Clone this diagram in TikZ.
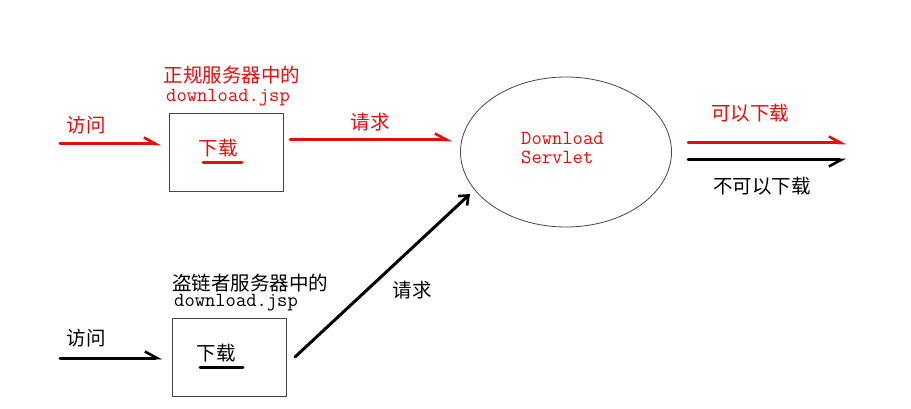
\documentclass[tikz,border=0pt]{standalone}
\usepackage{fontspec}
\newfontfamily\cjk{Noto Sans CJK SC}
\usetikzlibrary{arrows.meta,shapes.geometric}
\definecolor{myred}{RGB}{232,12,12}
\definecolor{boxgray}{RGB}{70,70,70}
\tikzset{
  cjklabel/.style={font=\cjk\fontsize{19.5}{22}\selectfont, inner sep=0pt},
  monolabel/.style={font=\ttfamily\fontsize{20}{20}\selectfont, inner sep=0pt},
  pagebox/.style={draw=boxgray, line width=0.9pt, minimum width=114pt, minimum height=78pt, inner sep=0pt},
  thickline/.style={line width=3pt, line cap=round},
  barbup/.style={-{Straight Barb[harpoon, length=12pt, width=13pt, line width=2.6pt]}},
  barbdown/.style={-{Straight Barb[harpoon, swap, length=12pt, width=13pt, line width=2.6pt]}},
  barbboth/.style={-{Straight Barb[length=8pt, width=13pt, line width=2.6pt]}},
}
\begin{document}
\begin{tikzpicture}[x=1pt,y=-1pt]
\useasboundingbox[fill=white] (0,0) rectangle (911,409);

% ---------- top (legitimate) ----------
\node[cjklabel, text=myred] (t1) at (232,75) {正规服务器中的};
\node[monolabel, text=myred] (t2) at (228,98) {download.jsp};
\node[pagebox] (box1) at (226,152) {};
\node[cjklabel, text=myred] (dl1) at (218,148) {下载};
\draw[thickline, myred] (203,163) -- (242,163);
\node[cjklabel, text=myred] (v1) at (86,125) {访问};
\coordinate (a1s) at (60,144);
\coordinate (a1e) at (161,144);
\draw[thickline, myred, barbup] (a1s) -- (a1e);

\node[cjklabel, text=myred] (q1) at (370,122) {请求};
\coordinate (r1s) at (290,140);
\coordinate (r1e) at (452,140);
\draw[thickline, myred, barbup] (r1s) -- (r1e);

% ---------- servlet ----------
\node[ellipse, draw=boxgray, line width=0.8pt, minimum width=211pt, minimum height=150pt, inner sep=0pt] (srv) at (566,152) {};
\node[monolabel, text=myred, align=left, anchor=west] (srvtxt) at (521,148) {Download\\[-1pt]Servlet};

\node[cjklabel, text=myred] (ok) at (750,113) {可以下载};
\coordinate (o1s) at (688,143);
\coordinate (o1e) at (846,143);
\draw[thickline, myred, barbup] (o1s) -- (o1e);

\coordinate (o2s) at (688,160);
\coordinate (o2e) at (846,160);
\draw[thickline, black, barbdown] (o2s) -- (o2e);
\node[cjklabel, text=black] (no) at (762,186) {不可以下载};

% ---------- bottom (leech) ----------
\node[cjklabel] (t3) at (250,283) {盗链者服务器中的};
\node[monolabel] (t4) at (236,303) {download.jsp};
\node[pagebox] (box2) at (229.5,357) {};
\node[cjklabel] (dl2) at (216,353) {下载};
\draw[thickline] (200,367) -- (243,367);
\node[cjklabel] (v2) at (86,338) {访问};
\coordinate (a2s) at (60,358);
\coordinate (a2e) at (162,358);
\draw[thickline, barbup] (a2s) -- (a2e);

\node[cjklabel] (q2) at (412,290) {请求};
\coordinate (r2s) at (295,357);
\coordinate (r2e) at (470,194);
\draw[thickline, barbboth] (r2s) -- (r2e);
\end{tikzpicture}
\end{document}
